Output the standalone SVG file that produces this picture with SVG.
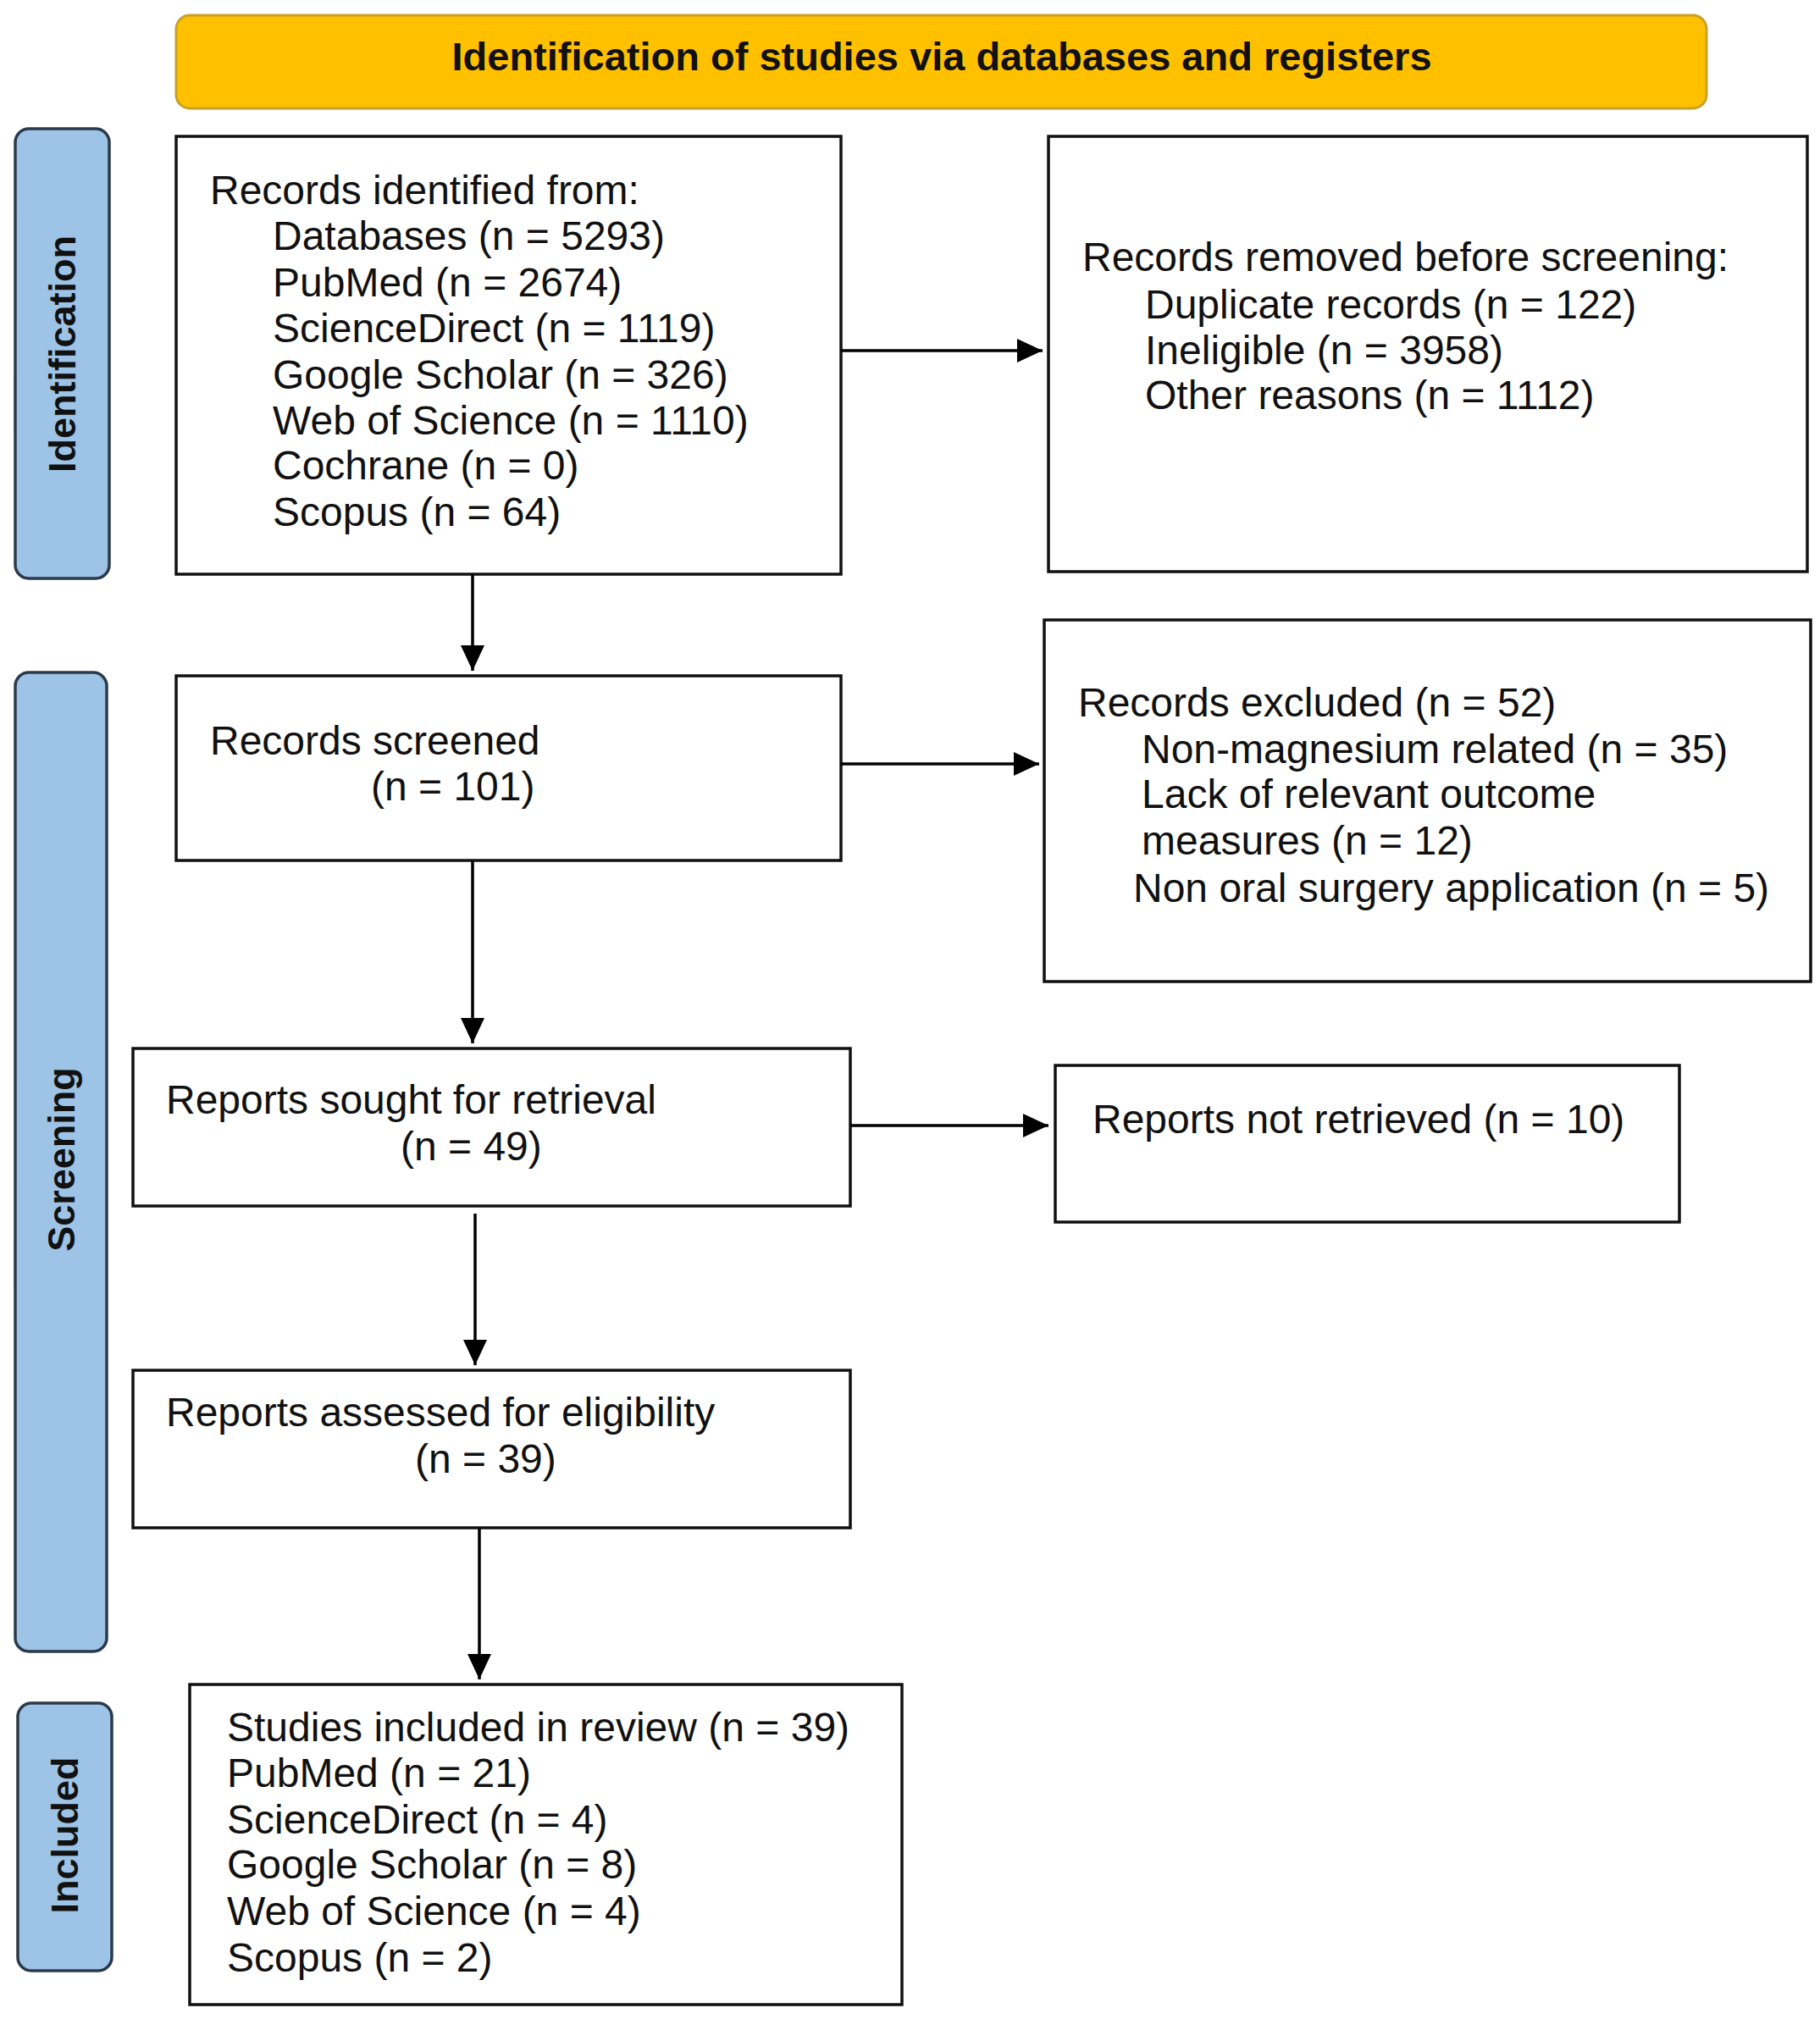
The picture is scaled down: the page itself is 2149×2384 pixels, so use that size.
<svg xmlns="http://www.w3.org/2000/svg" width="2149" height="2384" viewBox="0 0 2149 2384">
<defs>
<marker id="ah" viewBox="0 0 30 28" refX="30" refY="14" markerWidth="30" markerHeight="28" markerUnits="userSpaceOnUse" orient="auto">
<path d="M0,0 L30,14 L0,28 z" fill="#000"/>
</marker>
<style>
.box{fill:#fff;stroke:#111;stroke-width:3.5}
.side{fill:#9DC3E6;stroke:#2B3A4A;stroke-width:3.5}
.banner{fill:#FFC000;stroke:#C8A028;stroke-width:3}
.t{font-family:"Liberation Sans",Arial,sans-serif;font-size:48px;fill:#111}
.b{font-family:"Liberation Sans",Arial,sans-serif;font-size:47px;font-weight:bold;fill:#111}
.s{font-family:"Liberation Sans",Arial,sans-serif;font-size:45px;font-weight:bold;fill:#111}
.c{stroke:#000;stroke-width:3.5;fill:none;marker-end:url(#ah)}
</style>
</defs>
<rect width="2149" height="2384" fill="#fff"/>

<g id="banner">
<rect class="banner" x="208" y="18" width="1807" height="110" rx="16"/>
<text class="b" x="1112" y="83" text-anchor="middle">Identification of studies via databases and registers</text>
</g>

<g id="side-identification">
<rect class="side" x="18" y="152" width="111" height="531" rx="16"/>
<text class="s" transform="translate(89,418) rotate(-90)" text-anchor="middle">Identification</text>
</g>
<g id="side-screening">
<rect class="side" x="18" y="794" width="108" height="1156" rx="16"/>
<text class="s" transform="translate(88,1369) rotate(-90)" text-anchor="middle">Screening</text>
</g>
<g id="side-included">
<rect class="side" x="21" y="2011" width="111" height="316" rx="16"/>
<text class="s" transform="translate(92,2167) rotate(-90)" text-anchor="middle">Included</text>
</g>

<g id="records-identified">
<rect class="box" x="208" y="161" width="785" height="517"/>
<text class="t" x="248" y="241">Records identified from:</text>
<text class="t" x="322" y="295">Databases (n = 5293)</text>
<text class="t" x="322" y="350">PubMed (n = 2674)</text>
<text class="t" x="322" y="404">ScienceDirect (n = 1119)</text>
<text class="t" x="322" y="459">Google Scholar (n = 326)</text>
<text class="t" x="322" y="513">Web of Science (n = 1110)</text>
<text class="t" x="322" y="566">Cochrane (n = 0)</text>
<text class="t" x="322" y="621">Scopus (n = 64)</text>
</g>

<g id="records-removed">
<rect class="box" x="1238" y="161" width="896" height="514"/>
<text class="t" x="1278" y="320">Records removed before screening:</text>
<text class="t" x="1352" y="376">Duplicate records (n = 122)</text>
<text class="t" x="1352" y="430">Ineligible (n = 3958)</text>
<text class="t" x="1352" y="483">Other reasons (n = 1112)</text>
</g>

<g id="records-screened">
<rect class="box" x="208" y="798" width="785" height="218"/>
<text class="t" x="248" y="891">Records screened</text>
<text class="t" x="438" y="945">(n = 101)</text>
</g>

<g id="records-excluded">
<rect class="box" x="1233" y="732" width="905" height="427"/>
<text class="t" x="1273" y="846">Records excluded (n = 52)</text>
<text class="t" x="1348" y="901">Non-magnesium related (n = 35)</text>
<text class="t" x="1348" y="954">Lack of relevant outcome</text>
<text class="t" x="1348" y="1009">measures (n = 12)</text>
<text class="t" x="1338" y="1065">Non oral surgery application (n = 5)</text>
</g>

<g id="reports-sought">
<rect class="box" x="157" y="1238" width="847" height="186"/>
<text class="t" x="196" y="1315">Reports sought for retrieval</text>
<text class="t" x="473" y="1370">(n = 49)</text>
</g>

<g id="reports-not-retrieved">
<rect class="box" x="1246" y="1258" width="737" height="185"/>
<text class="t" x="1290" y="1338">Reports not retrieved (n = 10)</text>
</g>

<g id="reports-assessed">
<rect class="box" x="157" y="1618" width="847" height="186"/>
<text class="t" x="196" y="1684">Reports assessed for eligibility</text>
<text class="t" x="490" y="1739">(n = 39)</text>
</g>

<g id="studies-included">
<rect class="box" x="224" y="1989" width="841" height="378"/>
<text class="t" x="268" y="2056">Studies included in review (n = 39)</text>
<text class="t" x="268" y="2110">PubMed (n = 21)</text>
<text class="t" x="268" y="2165">ScienceDirect (n = 4)</text>
<text class="t" x="268" y="2218">Google Scholar (n = 8)</text>
<text class="t" x="268" y="2273">Web of Science (n = 4)</text>
<text class="t" x="268" y="2328">Scopus (n = 2)</text>
</g>

<g id="connectors">
<line class="c" x1="558" y1="678" x2="558" y2="792"/>
<line class="c" x1="993" y1="414" x2="1231" y2="414"/>
<line class="c" x1="993" y1="902" x2="1227" y2="902"/>
<line class="c" x1="558" y1="1016" x2="558" y2="1232"/>
<line class="c" x1="1004" y1="1329" x2="1238" y2="1329"/>
<line class="c" x1="561" y1="1433" x2="561" y2="1612"/>
<line class="c" x1="566" y1="1804" x2="566" y2="1983"/>
</g>
</svg>
